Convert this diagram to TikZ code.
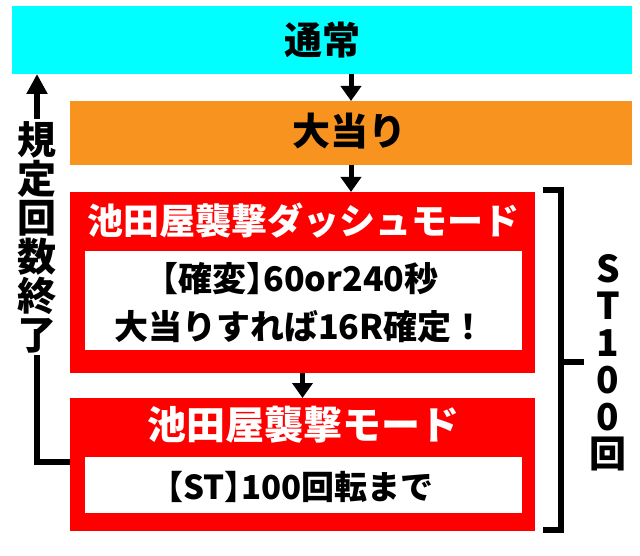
\documentclass[tikz,border=0pt]{standalone}
\usepackage{fontspec}
\setmainfont{Noto Sans CJK JP}[BoldFont={Noto Sans CJK JP Black}]
\newcommand{\hb}[1]{{\addfontfeatures{RawFeature=+halt}#1}}
\usetikzlibrary{arrows.meta,calc}
\definecolor{cyanbox}{HTML}{00FFFF}
\definecolor{orangebox}{HTML}{F7931E}
\definecolor{redbox}{HTML}{FF0000}
\tikzset{
  box/.style={draw=none,inner sep=0pt,outer sep=0pt,minimum width=#1},
  title/.style={inner sep=0pt,font=\fontsize{38}{40}\selectfont\bfseries},
  redtitle/.style={inner sep=0pt,text=white,font=\fontsize{36}{40}\selectfont\bfseries},
  bodytext/.style={inner sep=0pt,align=center,font=\fontsize{34}{48}\selectfont\bfseries},
  arr/.style={line width=5pt,-{Triangle[width=20pt,length=15pt]}},
  loopline/.style={line width=6pt,-{Triangle[width=20pt,length=20pt]}},
  bracket/.style={line width=6pt},
  sidetext/.style={inner sep=0pt,align=center,font=\fontsize{#1}{#1}\selectfont\bfseries}
}
\begin{document}
\begin{tikzpicture}[x=1pt,y=-1pt]
\useasboundingbox (0,0) rectangle (640,556);
% boxes
\node[box=620pt,fill=cyanbox,minimum height=68pt] (normal) at (322,40) {};
\node[title] (normaltxt) at (322,40) {通常};
\node[box=562pt,fill=orangebox,minimum height=64pt] (big) at (351,133) {};
\node[title] (bigtxt) at (349,131) {大当り};
\node[box=465pt,fill=redbox,minimum height=181pt] (dash) at (302.5,282.5) {};
\node[box=437.5pt,fill=white,minimum height=99pt] (dashin) at (303.25,300.5) {};
\node[redtitle] (dashtxt) at (303,221) {池田屋襲撃ダッシュモード};
\node[bodytext] (dashbody) at (300,303) {\hb{【}確変\hb{】}60or240秒\\大当りすれば16R確定！};
\node[box=465pt,fill=redbox,minimum height=133pt] (st) at (302.5,464.5) {};
\node[box=437.5pt,fill=white,minimum height=56pt] (stin) at (303.25,485) {};
\node[redtitle,font=\fontsize{39}{40}\selectfont\bfseries] (sttxt) at (303,425) {池田屋襲撃モード};
\node[bodytext,font=\fontsize{33}{40}\selectfont\bfseries] (stbody) at (300,487) {\hb{【}ST\hb{】}100回転まで};
% arrows
\draw[arr] (normal.south -| big.north) -- (big.north);
\draw[arr] (big.south) -- (big.south |- dash.north);
\draw[arr] (dash.south) -- (st.north);
% loop back
\coordinate (loopx) at (37,0);
\draw[loopline] (st.west |- 0,462) -| (normal.south -| loopx);
\node[sidetext=39,fill=white,inner ysep=2pt,text width=44pt] (limit) at (37,237) {規\\定\\回\\数\\終\\了};
% bracket
\coordinate (bt1) at (543,190);
\coordinate (bt2) at (561,190);
\coordinate (bb1) at (543,530);
\coordinate (bb2) at (561,530);
\coordinate (bm1) at (561,362);
\coordinate (bm2) at (584,362);
\draw[bracket] (bt1) -- (bt2) -- (bb2) -- (bb1);
\draw[bracket] (bm1) -- (bm2);
\node[sidetext=37,text width=40pt] (st100) at (608,363) {S\\T\\1\\0\\0\\回};
\end{tikzpicture}
\end{document}
